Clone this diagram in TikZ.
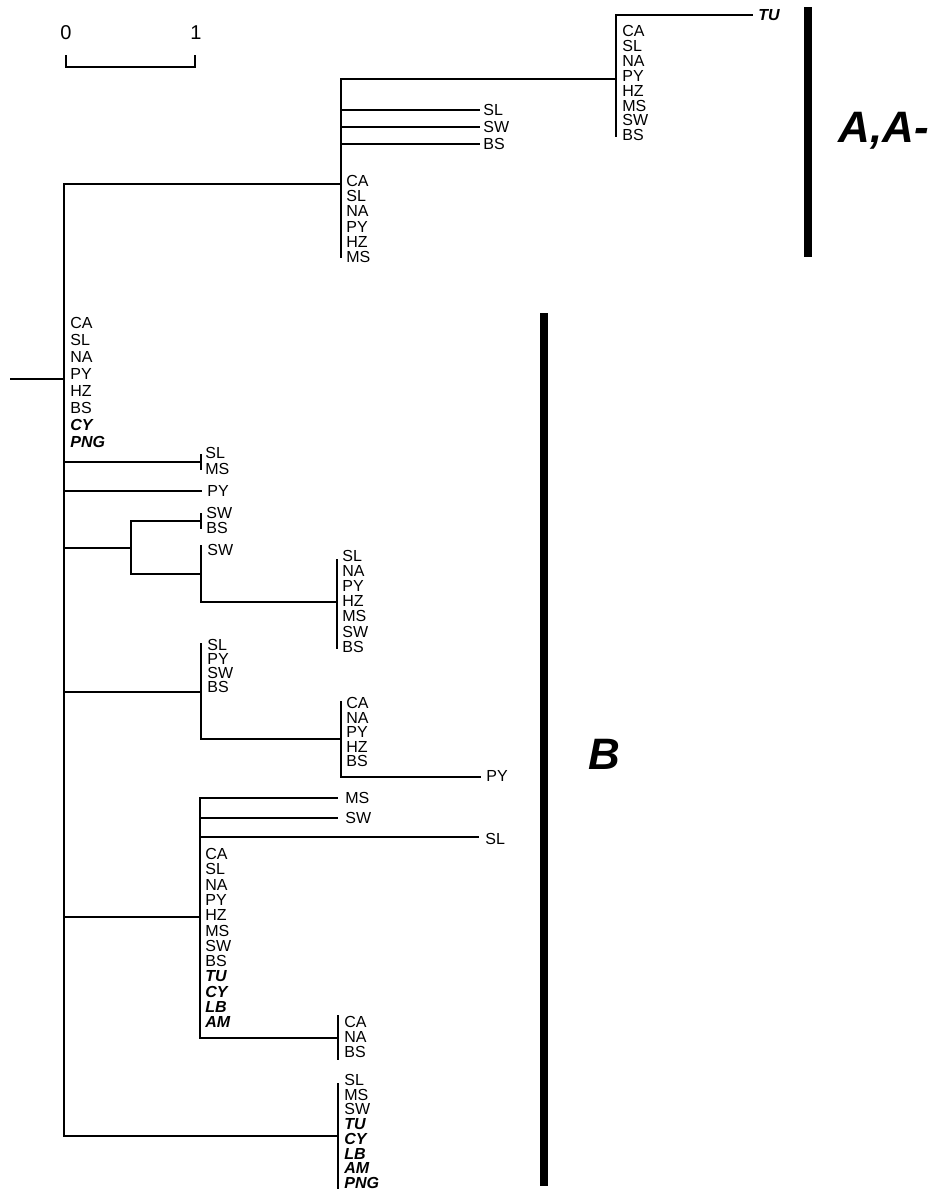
\documentclass[tikz,border=0pt]{standalone}
\usepackage{fontspec}
\setmainfont{Liberation Sans}
\newcommand\bi{\bfseries\itshape}
\tikzset{
  tree/.style={line width=1.25pt, line cap=rect},
  bar/.style={line width=3.6pt},
  lab/.style={anchor=west, inner sep=0pt, font=\fontsize{8}{9}\selectfont},
  big/.style={anchor=west, inner sep=0pt, font=\fontsize{22}{24}\selectfont\bfseries\itshape},
  num/.style={inner sep=0pt, font=\fontsize{10}{11}\selectfont},
}
\newcommand\labstack[5]{%
  \foreach \t [count=\i from 0] in {#5}
    \node[lab] (#1\i) at (#2,{#3+\i*#4}) {\t};}
\begin{document}
\begin{tikzpicture}[x=0.5pt,y=-0.5pt]
\useasboundingbox (0,0) rectangle (928,1190);
% scale bar
\node[num] (s0) at (66,33) {0};
\node[num] (s1) at (196,33) {1};
\coordinate (sa) at (66,55); \coordinate (sb) at (66,67);
\coordinate (sc) at (195,67); \coordinate (sd) at (195,55);
\draw[line width=0.9pt] (sa) -- (sb) -- (sc) -- (sd);

% root and main vertical
\coordinate (root) at (11,379);
\coordinate (mr) at (64,379);
\coordinate (mt) at (64,184);
\coordinate (mb) at (64,1136);
\draw[tree] (root) -- (mr);
\draw[tree] (mt) -- (mb);
\labstack{ml}{70}{323}{17}{CA,SL,NA,PY,HZ,BS,\bi CY,\bi PNG}

% ---------- clade A ----------
\coordinate (a0) at (341,184);
\coordinate (at) at (341,79);
\coordinate (ab) at (341,257);
\draw[tree] (mt) -- (a0);
\draw[tree] (at) -- (ab);
\coordinate (a1) at (616,79);
\coordinate (a1t) at (616,15);
\coordinate (a1b) at (616,136);
\draw[tree] (at) -- (a1);
\draw[tree] (a1t) -- (a1b);
\node[lab, font=\fontsize{8}{9}\selectfont\bfseries\itshape] (tu) at (758,15) {TU};
\coordinate (tue) at (752,15);
\draw[tree] (a1t) -- (tue);
\labstack{tul}{622}{31}{14.9}{CA,SL,NA,PY,HZ,MS,SW,BS}
\node[lab] (asl) at (483,110) {SL};
\node[lab] (asw) at (483,127) {SW};
\node[lab] (abs) at (483,144) {BS};
\coordinate (asl0) at (341,110);
\coordinate (asw0) at (341,127);
\coordinate (abs0) at (341,144);
\draw[tree] (asl0) -- (479,110);
\draw[tree] (asw0) -- (479,127);
\draw[tree] (abs0) -- (479,144);
\labstack{al}{346}{181}{15.2}{CA,SL,NA,PY,HZ,MS}

% ---------- clade B ----------
% SL/MS
\coordinate (b1) at (64,462);
\coordinate (b1e) at (201,462);
\draw[tree] (b1) -- (b1e);
\draw[tree] (201,455) -- (201,469);
\labstack{b1l}{205}{453}{15.5}{SL,MS}
% PY
\coordinate (b2) at (64,491);
\node[lab] (b2l) at (207,491) {PY};
\draw[tree] (b2) -- (201,491);
% SW clade
\coordinate (b3) at (64,548);
\coordinate (b3j) at (131,548);
\coordinate (b3t) at (131,521);
\coordinate (b3b) at (131,574);
\draw[tree] (b3) -- (b3j);
\draw[tree] (b3t) -- (b3b);
\draw[tree] (b3t) -- (201,521);
\draw[tree] (201,514) -- (201,528);
\labstack{b3u}{206}{513}{15}{SW,BS}
\coordinate (b4) at (201,574);
\coordinate (b4t) at (201,546);
\coordinate (b4b) at (201,602);
\draw[tree] (b3b) -- (b4);
\draw[tree] (b4t) -- (b4b);
\node[lab] (b4l) at (207,550) {SW};
\coordinate (b5) at (337,602);
\draw[tree] (b4b) -- (b5);
\draw[tree] (337,560) -- (337,648);
\labstack{b5l}{342}{556}{15.1}{SL,NA,PY,HZ,MS,SW,BS}
% second clade
\coordinate (c0) at (64,692);
\coordinate (c1) at (201,692);
\coordinate (c1t) at (201,644);
\coordinate (c1b) at (201,739);
\draw[tree] (c0) -- (c1);
\draw[tree] (c1t) -- (c1b);
\labstack{c1l}{207}{645}{14}{SL,PY,SW,BS}
\coordinate (c2) at (341,739);
\coordinate (c2t) at (341,702);
\coordinate (c2b) at (341,777);
\draw[tree] (c1b) -- (c2);
\draw[tree] (c2t) -- (c2b);
\labstack{c2l}{346}{703}{14.5}{CA,NA,PY,HZ,BS}
\node[lab] (c3l) at (486,776) {PY};
\draw[tree] (c2b) -- (480,777);
% third clade
\coordinate (d0) at (64,917);
\coordinate (d1) at (200,917);
\coordinate (d1t) at (200,798);
\coordinate (d1b) at (200,1038);
\draw[tree] (d0) -- (d1);
\draw[tree] (d1t) -- (d1b);
\node[lab] (dms) at (345,798) {MS};
\node[lab] (dsw) at (345,818) {SW};
\node[lab] (dsl) at (485,839) {SL};
\draw[tree] (d1t) -- (337,798);
\draw[tree] (200,818) -- (337,818);
\draw[tree] (200,837) -- (478,837);
\labstack{d1l}{205}{854}{15.3}{CA,SL,NA,PY,HZ,MS,SW,BS,\bi TU,\bi CY,\bi LB,\bi AM}
\coordinate (d2) at (338,1038);
\draw[tree] (d1b) -- (d2);
\draw[tree] (338,1016) -- (338,1059);
\labstack{d2l}{344}{1022}{15}{CA,NA,BS}
% bottom clade
\coordinate (e1) at (338,1136);
\draw[tree] (mb) -- (e1);
\draw[tree] (338,1084) -- (338,1188);
\labstack{el}{344}{1080}{14.7}{SL,MS,SW,\bi TU,\bi CY,\bi LB,\bi AM,\bi PNG}

% group bars and labels
\coordinate (ga1) at (808,7); \coordinate (ga2) at (808,257);
\draw[bar] (ga1) -- (ga2);
\node[big] (ga) at (838,131) {A,A-};
\coordinate (gb1) at (544,313); \coordinate (gb2) at (544,1186);
\draw[bar] (gb1) -- (gb2);
\node[big] (gb) at (588,754) {B};
\end{tikzpicture}
\end{document}
